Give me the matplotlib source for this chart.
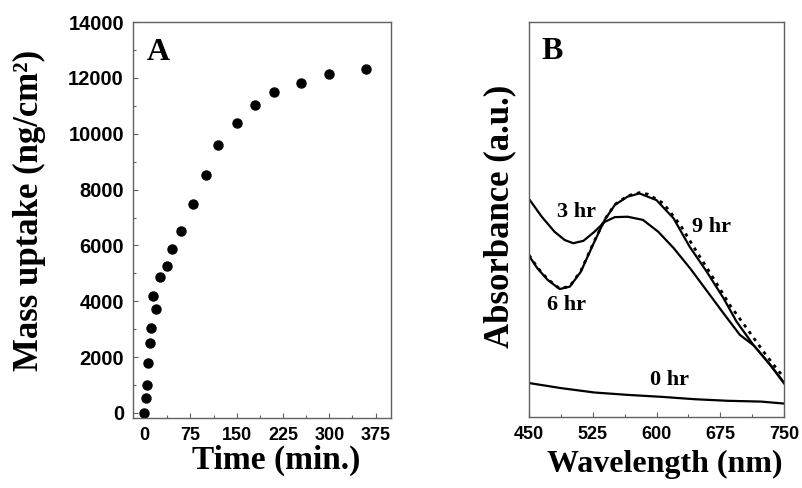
import numpy as np
import matplotlib
matplotlib.use('Agg')
from matplotlib import pyplot as plt
from matplotlib.ticker import MultipleLocator

# panel A: mass uptake vs time
time_min = [0, 3, 5, 7, 9, 11, 14, 20, 26, 37, 46, 60, 80, 100, 120, 150, 180, 210, 255, 300, 360]
mass_uptake = [0, 540, 1010, 1800, 2500, 3050, 4180, 3740, 4880, 5260, 5890, 6520, 7500, 8520, 9590,
               10390, 11020, 11500, 11800, 12130, 12330]

# panel B: absorbance spectra (arbitrary units)
wl_0hr = [450, 488, 527, 566, 606, 645, 684, 723, 750]
abs_0hr = [0.086, 0.073, 0.062, 0.056, 0.051, 0.045, 0.041, 0.039, 0.034]

wl_3hr = [450, 465, 480, 492, 502, 514, 527, 539, 551, 566, 584, 602, 620, 640, 660, 680, 698, 715, 735, 750]
abs_3hr = [0.552, 0.507, 0.469, 0.448, 0.440, 0.446, 0.469, 0.494, 0.506, 0.507, 0.499, 0.469,
           0.428, 0.375, 0.317, 0.259, 0.208, 0.180, 0.128, 0.085]

wl_6hr = [450, 460, 472, 486, 498, 511, 525, 539, 551, 566, 580, 600, 620, 639, 659, 679, 694, 714, 734, 750]
abs_6hr = [0.408, 0.376, 0.347, 0.324, 0.330, 0.368, 0.435, 0.499, 0.537, 0.558, 0.566, 0.549,
           0.503, 0.431, 0.368, 0.300, 0.242, 0.182, 0.132, 0.087]

wl_9hr = [450, 460, 472, 486, 498, 511, 525, 539, 551, 566, 580, 590, 608, 628, 647, 667, 686, 706, 726, 741, 750]
abs_9hr = [0.410, 0.378, 0.349, 0.325, 0.331, 0.370, 0.437, 0.500, 0.538, 0.560, 0.568, 0.564,
           0.541, 0.486, 0.419, 0.351, 0.284, 0.225, 0.165, 0.123, 0.100]

# curve labels: (text, wavelength, absorbance)
curve_labels = [('3 hr', 506, 0.520), ('6 hr', 494, 0.284), ('9 hr', 665, 0.482), ('0 hr', 615, 0.094)]

serif = 'Liberation Serif'
sans = 'Liberation Sans'
spine_col = '#606060'

fig = plt.figure(figsize=(8.03, 4.88), dpi=100)
axA = fig.add_axes([0.1656, 0.1434, 0.3213, 0.8115])
axB = fig.add_axes([0.6588, 0.1455, 0.3176, 0.8094])

for ax in (axA, axB):
    for s in ax.spines.values():
        s.set_color(spine_col)
        s.set_linewidth(1.0)
    ax.tick_params(which='both', direction='in', top=False, right=False, color=spine_col)
    ax.tick_params(which='major', length=3.5, width=0.8, pad=6.5)
    ax.tick_params(which='minor', length=2, width=0.8)

# --- panel A ---
axA.plot(time_min, mass_uptake, 'o', color='black', markersize=6.5)
axA.set_xlim(-18, 400)
axA.set_ylim(-180, 14000)
axA.xaxis.set_major_locator(MultipleLocator(75))
axA.xaxis.set_minor_locator(MultipleLocator(37.5))
axA.yaxis.set_major_locator(MultipleLocator(2000))
axA.yaxis.set_minor_locator(MultipleLocator(1000))
axA.set_xlabel('Time (min.)', fontsize=24, fontweight='bold', family=serif)
axA.set_ylabel('Mass uptake (ng/cm²)', fontsize=25, fontweight='bold', family=serif)
axA.xaxis.set_label_coords(0.554, -0.068)
axA.yaxis.set_label_coords(-0.337, 0.525)
axA.text(0.097, 0.922, 'A', transform=axA.transAxes, fontsize=23, fontweight='bold',
         family=serif, ha='center', va='center')

# --- panel B ---
axB.plot(wl_0hr, abs_0hr, color='black', lw=1.6)
axB.plot(wl_3hr, abs_3hr, color='black', lw=1.6)
axB.plot(wl_9hr, abs_9hr, color='black', lw=2.0, ls=(0, (1.2, 1.8)))
axB.plot(wl_6hr, abs_6hr, color='black', lw=1.6)
for txt, x, y in curve_labels:
    axB.text(x, y, txt, fontsize=16, fontweight='bold', family=serif, ha='center', va='center')
axB.set_xlim(450, 750)
axB.set_ylim(0, 1)
axB.xaxis.set_major_locator(MultipleLocator(75))
axB.xaxis.set_minor_locator(MultipleLocator(37.5))
axB.set_yticks([])
axB.set_xlabel('Wavelength (nm)', fontsize=23, fontweight='bold', family=serif)
axB.set_ylabel('Absorbance (a.u.)', fontsize=25, fontweight='bold', family=serif)
axB.xaxis.set_label_coords(0.533, -0.084)
axB.yaxis.set_label_coords(-0.051, 0.508)
axB.text(0.089, 0.925, 'B', transform=axB.transAxes, fontsize=23, fontweight='bold',
         family=serif, ha='center', va='center')

for ax in (axA, axB):
    for lab in ax.get_xticklabels():
        lab.set_fontfamily(sans)
        lab.set_fontweight('bold')
        lab.set_fontsize(13)
    for lab in ax.get_yticklabels():
        lab.set_fontfamily(sans)
        lab.set_fontweight('bold')
        lab.set_fontsize(14.5)

fig.savefig('out.png', dpi=100)
